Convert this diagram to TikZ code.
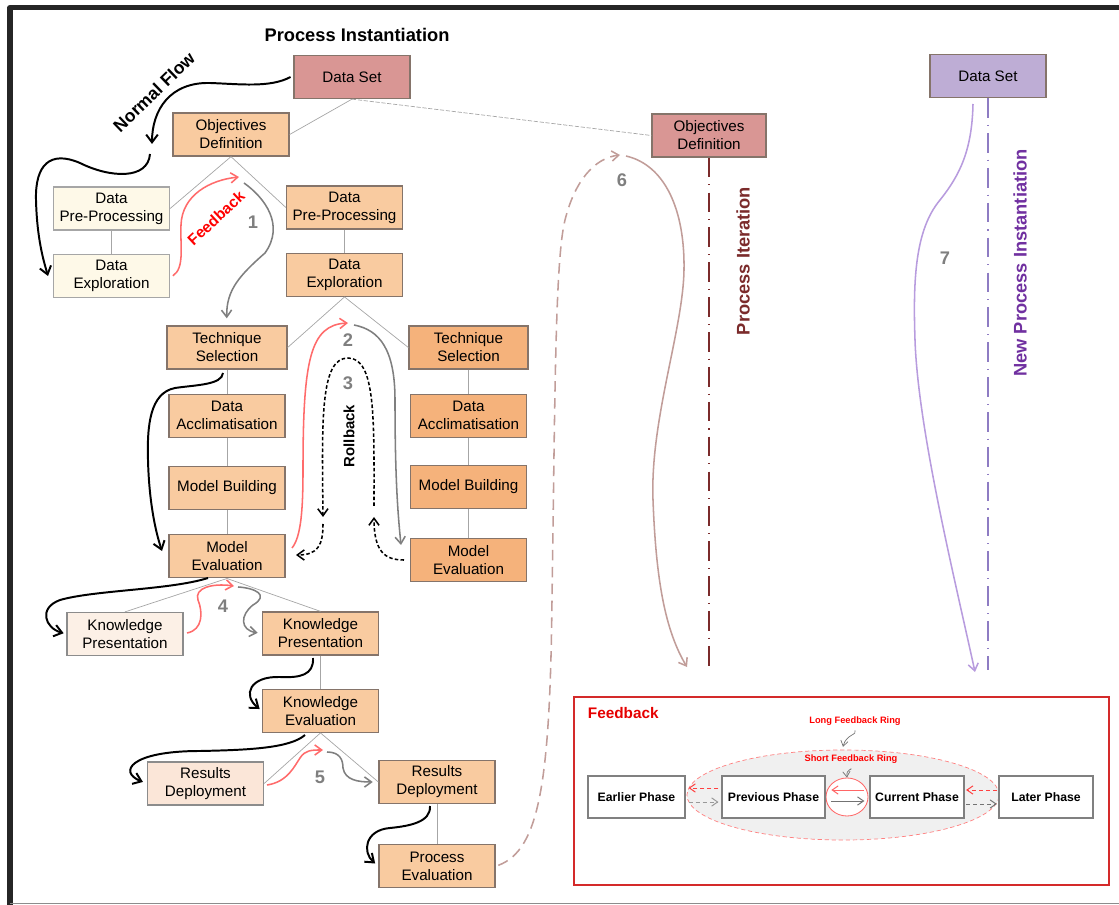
\documentclass[tikz,border=0pt]{standalone}
\usepackage{fontspec}
\setmainfont{Liberation Sans}
\usepackage{xcolor}
\usepackage{tikz}
\usetikzlibrary{arrows.meta,calc}
\usetikzlibrary{positioning,shapes,arrows}

\definecolor{rosebox}{HTML}{D99694}
\definecolor{peachbox}{HTML}{F9CBA0}
\definecolor{amberbox}{HTML}{F5B27B}
\definecolor{creambox}{HTML}{FEF9E8}
\definecolor{blushbox}{HTML}{FCF0E6}
\definecolor{blushdeep}{HTML}{FBE6D8}
\definecolor{lilacbox}{HTML}{BEADD5}
\definecolor{boxline}{HTML}{85746A}
\definecolor{fbred}{HTML}{FF6B6B}
\definecolor{fwgray}{HTML}{7F7F7F}
\definecolor{iterred}{HTML}{7B2B2B}
\definecolor{iterline}{HTML}{C19D99}
\definecolor{newpurple}{HTML}{7030A0}
\definecolor{newline}{HTML}{B89CDE}
\definecolor{newdash}{HTML}{8E7CC3}
\definecolor{insetred}{HTML}{D42A2A}

\tikzset{
  phase/.style={draw=boxline, line width=0.9pt, fill=peachbox, minimum width=2.9cm,
    minimum height=1.075cm, inner sep=2pt, align=center,
    font=\fontsize{10.8}{12.8}\selectfont},
  faded/.style={phase, draw=black!35},
  link/.style={draw=black!35, line width=0.5pt},
  flow/.style={->, line width=1.4pt},
  back/.style={->, draw=fbred, line width=1.1pt},
  fwd/.style={->, draw=fwgray, line width=1.1pt},
  rollb/.style={->, line width=1.1pt, dash pattern=on 2.5pt off 1.6pt},
  num/.style={text=fwgray, font=\bfseries\fontsize{13}{15}\selectfont},
  vlabel/.style={rotate=90, font=\bfseries\fontsize{13}{15}\selectfont},
  stage/.style={draw=black!50, line width=1pt, fill=white, minimum height=1.05cm,
    inner sep=1pt, font=\bfseries\fontsize{8.7}{10}\selectfont},
  ringlabel/.style={text=red, font=\bfseries\fontsize{6.6}{8}\selectfont},
  thinarr/.style={->, line width=0.7pt},
}

\begin{document}
\begin{tikzpicture}[x=0.025cm, y=-0.025cm, >={Straight Barb[length=3pt 1.8,width=3.5pt 3.4]}]
    \useasboundingbox (0,0) rectangle (1119,905);
    % Frame
    \draw[line width=4pt, black!85, line join=round] (10.3,915) -- (10.3,7.5) -- (1130,7.5);
    \draw[black!45, line width=1.2pt] (10,903.5) -- (1125,903.5);

    % Nodes
    \node[font=\bfseries\fontsize{13}{15}\selectfont] (title) at (357,35) {Process Instantiation};
    \node[phase, fill=rosebox] (ds1) at (352,77) {Data Set};
    \node[phase] (od1) at (231,134.5) {Objectives\\Definition};
    \node[faded, fill=creambox] (dpp1) at (111.5,208.5) {Data\\Pre-Processing};
    \node[faded, fill=creambox, below=0.575cm of dpp1] (de1) {Data\\Exploration};
    \node[phase] (dpp2) at (344.5,207.5) {Data\\Pre-Processing};
    \node[phase, below=0.575cm of dpp2] (de2) {Data\\Exploration};
    \node[phase, minimum width=3cm] (ts1) at (227,347.5) {Technique\\Selection};
    \node[phase, below=0.6cm of ts1] (da1) {Data\\Acclimatisation};
    \node[phase, below=0.7cm of da1] (mb1) {Model Building};
    \node[phase, below=0.6cm of mb1] (me1) {Model\\Evaluation};
    \node[phase, fill=amberbox, minimum width=2.975cm] (ts2) at (468.5,347.5) {Technique\\Selection};
    \node[phase, fill=amberbox, below=0.6cm of ts2] (da2) {Data\\Acclimatisation};
    \node[phase, fill=amberbox, below=0.675cm of da2] (mb2) {Model Building};
    \node[phase, fill=amberbox, below=0.725cm of mb2] (me2) {Model\\Evaluation};
    \node[faded, fill=blushbox, draw=black!45] (kp1) at (125,634) {Knowledge\\Presentation};
    \node[phase] (kp2) at (320.5,633.5) {Knowledge\\Presentation};
    \node[phase, below=0.825cm of kp2] (ke) {Knowledge\\Evaluation};
    \node[faded, fill=blushdeep, draw=black!45] (rd1) at (205.5,783.5) {Results\\Deployment};
    \node[phase] (rd2) at (437,782) {Results\\Deployment};
    \node[phase, below=1cm of rd2] (pe) {Process\\Evaluation};
    \node[phase, fill=rosebox, minimum width=2.85cm] (od2) at (709,135.5) {Objectives\\Definition};
    \node[phase, fill=lilacbox] (ds2) at (988,76) {Data Set};

    % Tree lines
    \draw[link] (ds1.south) -- (od1.east);
    \draw[link, dash pattern=on 3pt off 1.2pt] (ds1.south) -- (od2.west);
    \draw[link] (od1.south) -- (dpp1.east);
    \draw[link] (od1.south) -- (dpp2.west);
    \draw[link] (dpp1) -- (de1);
    \draw[link] (dpp2) -- (de2);
    \draw[link] (de2.south) -- (ts1.east);
    \draw[link] (de2.south) -- (ts2.west);
    \draw[link] (ts1) -- (da1) -- (mb1) -- (me1);
    \draw[link] (ts2) -- (da2) -- (mb2) -- (me2);
    \draw[link] (me1.south) -- (kp1.north);
    \draw[link] (me1.south) -- (kp2.north);
    \draw[link] (kp2) -- (ke);
    \draw[link] (ke.south) -- (rd1.east);
    \draw[link] (ke.south) -- (rd2.west);
    \draw[link] (rd2) -- (pe);

    % Free ends of the curved arrows
    \coordinate (nf1) at (152,144);
    \coordinate (nf2) at (150,154);
    \coordinate (nf3) at (48,276);
    \coordinate (f3s) at (223,373);
    \coordinate (f3e) at (162,551);
    \coordinate (f4s) at (208,578);
    \coordinate (f5s) at (313,658);
    \coordinate (f6s) at (305,735);
    \coordinate (f7s) at (430,806);
    \coordinate (fb1e) at (239,177);
    \coordinate (g1s) at (244,183);
    \coordinate (r2s) at (292,548);
    \coordinate (r2e) at (348,323);
    \coordinate (g2s) at (354,325);
    \coordinate (g2e) at (401,545);
    \coordinate (rb1s) at (404,560);
    \coordinate (rb1e) at (374,517);
    \coordinate (rb2s) at (374,506);
    \coordinate (rb2e) at (323,517);
    \coordinate (rb3s) at (323,524);
    \coordinate (rb3e) at (296,555);
    \coordinate (r4s) at (187,633);
    \coordinate (r4e) at (234,586);
    \coordinate (g4s) at (238,587);
    \coordinate (r5s) at (267,785);
    \coordinate (r5e) at (323,750);
    \coordinate (g5s) at (327,752);
    \coordinate (it1e) at (620,155);
    \coordinate (it2s) at (626,156);
    \coordinate (it2e) at (687,667);
    \coordinate (itend) at (709,668);
    \coordinate (ni1s) at (973,104);
    \coordinate (ni1e) at (975,672);
    \coordinate (niend) at (988,670);

    % Normal flow
    \draw[flow] ([xshift=-2pt]ds1.west) .. controls (270,88) and (240,84) .. (210,83)
        .. controls (170,82) and (152,110) .. (nf1);
    \node[rotate=44, font=\bfseries\fontsize{12.5}{15}\selectfont] (nflabel) at (154,92) {Normal Flow};
    \draw[flow] (nf2) .. controls (148,180) and (110,178) .. (80,163)
        .. controls (50,150) and (35,165) .. (36,200) .. controls (37,240) and (44,262) .. (nf3);
    \draw[flow] (f3s) .. controls (222,385) and (195,385) .. (175,388)
        .. controls (150,393) and (147,425) .. (148,460) .. controls (149,500) and (155,530) .. (f3e);
    \draw[flow, shorten >=2pt] (f4s) .. controls (170,590) and (95,590) .. (60,600)
        .. controls (38,608) and (45,628) .. (kp1.west);
    \draw[flow, shorten >=2pt] (f5s) .. controls (314,675) and (300,678) .. (280,677)
        .. controls (250,676) and (242,695) .. (ke.west);
    \draw[flow, shorten >=3pt] (f6s) .. controls (290,748) and (250,750) .. (200,751)
        .. controls (130,751) and (118,772) .. (rd1.west);
    \draw[flow, shorten >=3pt] (f7s) .. controls (431,822) and (410,826) .. (390,828)
        .. controls (365,830) and (362,852) .. (pe.west);

    % Feedback and forward loops
    \draw[back] ([xshift=2pt]de1.east) .. controls (185,268) and (180,245) .. (181,225)
        .. controls (182,195) and (210,180) .. (fb1e);
    \node[rotate=43, text=red, font=\bfseries\fontsize{11}{13}\selectfont] (fblabel) at (216,218) {Feedback};
    \draw[fwd, shorten >=5pt] (g1s) .. controls (265,198) and (285,225) .. (265,253)
        .. controls (240,275) and (226,290) .. (ts1.north);
    \node[num] (n1) at (253,222) {1};
    \draw[back] (r2s) .. controls (301,537) and (303,510) .. (303,470)
        .. controls (303,360) and (310,325) .. (r2e);
    \draw[fwd] (g2s) .. controls (380,330) and (395,350) .. (395,400)
        .. controls (395,480) and (398,515) .. (g2e);
    \node[num] (n2) at (348,340) {2};
    \draw[rollb] (rb1s) .. controls (385,560) and (374,552) .. (rb1e);
    \draw[rollb] (rb2s) .. controls (374,420) and (376,358) .. (348,358)
        .. controls (320,358) and (322,420) .. (rb2e);
    \draw[rollb] (rb3s) .. controls (323,545) and (318,555) .. (rb3e);
    \node[num] (n3) at (348,383) {3};
    \node[rotate=90, font=\bfseries\fontsize{10.6}{12}\selectfont] (rblabel) at (349,436) {Rollback};
    \draw[back] (r4s) .. controls (203,630) and (203,612) .. (198,600)
        .. controls (194,588) and (212,583) .. (r4e);
    \draw[fwd, shorten >=3pt] (g4s) .. controls (255,588) and (270,595) .. (253,605)
        .. controls (240,615) and (240,630) .. (kp2.west);
    \node[num] (n4) at (223,606) {4};
    \draw[back] (r5s) .. controls (288,782) and (295,765) .. (300,758)
        .. controls (305,750) and (312,750) .. (r5e);
    \draw[fwd, shorten >=4pt] (g5s) .. controls (340,752) and (343,760) .. (343,768)
        .. controls (345,780) and (358,782) .. (rd2.west);
    \node[num] (n5) at (320,777) {5};

    % Process iteration
    \draw[->, draw=iterline, line width=1.1pt, dash pattern=on 7.5pt off 4.5pt, shorten <=2pt]
        (pe.east) .. controls (540,850) and (550,780) .. (552,600)
        .. controls (555,400) and (555,260) .. (565,220) .. controls (575,180) and (595,158) .. (it1e);
    \draw[->, draw=iterline, line width=1.1pt] (it2s) .. controls (665,165) and (685,210) .. (684,270)
        .. controls (683,330) and (650,420) .. (653,500) .. controls (656,580) and (665,630) .. (it2e);
    \node[num] (n6) at (622,180) {6};
    \draw[iterred, line width=1.1pt, dash pattern=on 14pt off 5pt on 0.8pt off 5pt] (od2.south) -- (itend);
    \node[vlabel, text=iterred] (itlabel) at (743,261) {Process Iteration};

    % New process instantiation
    \draw[->, draw=newline, line width=1.1pt] (ni1s) .. controls (972,150) and (960,175) .. (940,200)
        .. controls (915,230) and (913,280) .. (915,340) .. controls (918,430) and (955,580) .. (ni1e);
    \node[num] (n7) at (945,258) {7};
    \draw[newdash, line width=1.1pt, dash pattern=on 14pt off 5pt on 0.8pt off 5pt] (ds2.south) -- (niend);
    \node[vlabel, text=newpurple] (nilabel) at (1020,263) {New Process Instantiation};

    % Feedback legend
    \node[draw=insetred, line width=1.5pt, minimum width=13.375cm, minimum height=4.7cm] (legend) at (841.5,791) {};
    \node[anchor=west, text=red!90!black, font=\bfseries\fontsize{10.9}{13}\selectfont] (legtitle) at (583,713) {Feedback};
    \node[ellipse, draw=red!50, densely dashed, line width=0.5pt, fill=black!6,
        minimum width=7.8cm, minimum height=2.25cm] (longring) at (843,795) {};
    \node[ellipse, draw=red!60, line width=0.6pt, fill=white,
        minimum width=1.05cm, minimum height=0.95cm] (shortring) at (847,797) {};
    \node[stage, minimum width=2.425cm] (earl) at (636.5,797) {Earlier Phase};
    \node[stage, minimum width=2.575cm] (prev) at (773.5,797) {Previous Phase};
    \node[stage, minimum width=2.35cm] (cur) at (917,797) {Current Phase};
    \node[stage, minimum width=2.35cm] (later) at (1046,797) {Later Phase};
    \node[ringlabel] (longlbl) at (855,721) {Long Feedback Ring};
    \node[ringlabel] (shortlbl) at (851,759) {Short Feedback Ring};
    \draw[thinarr, draw=black!55, line width=0.5pt] (longlbl.south) .. controls (858,735) and (846,734) .. ([yshift=2pt]longring.north);
    \draw[thinarr, draw=black!55, line width=0.5pt] (shortlbl.south) .. controls (853,770) and (846,768) .. (shortring.north);
    \draw[thinarr, draw=red!75, densely dashed, shorten <=2pt, shorten >=2pt] ([yshift=0.225cm]prev.west) -- ([yshift=0.225cm]earl.east);
    \draw[thinarr, draw=black!40, densely dashed, shorten <=2pt, shorten >=2pt] ([yshift=-0.125cm]earl.east) -- ([yshift=-0.125cm]prev.west);
    \draw[thinarr, draw=red!60, shorten <=3.5pt, shorten >=4pt] ([yshift=0.175cm]cur.west) -- ([yshift=0.175cm]prev.east);
    \draw[thinarr, draw=black!55, shorten <=4pt, shorten >=3.5pt] ([yshift=-0.1cm]prev.east) -- ([yshift=-0.1cm]cur.west);
    \draw[thinarr, draw=red!75, densely dashed, shorten <=1pt, shorten >=1pt] ([yshift=0.175cm]later.west) -- ([yshift=0.175cm]cur.east);
    \draw[thinarr, draw=black!55, densely dashed, shorten <=1pt, shorten >=1pt] ([yshift=-0.175cm]cur.east) -- ([yshift=-0.175cm]later.west);
\end{tikzpicture}
\end{document}
